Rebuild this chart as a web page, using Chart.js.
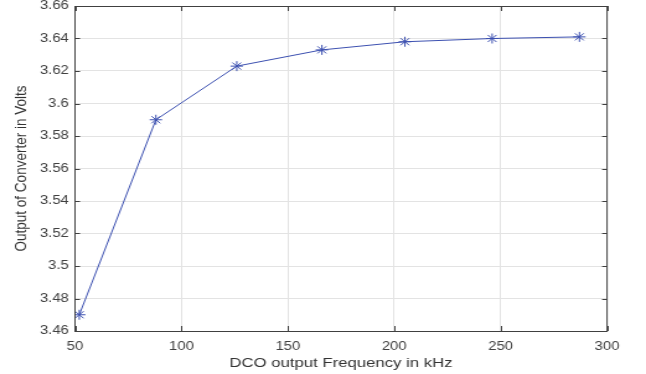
<!DOCTYPE html>
<html>
<head>
<meta charset="utf-8">
<script src="https://cdn.jsdelivr.net/npm/chart.js@4"></script>
<style>
  body { margin: 0; background: #fff; }
  canvas { display: block; }
</style>
</head>
<body>
<!-- drawn at 521 wide, shown at 646: the reference is stretched sideways -->
<canvas id="myChart" width="521" height="374" style="width:646px;height:374px"></canvas>
<script>
const freqKHz = [52, 88, 126, 166, 205, 246, 287];
const volts = [3.470, 3.590, 3.623, 3.633, 3.638, 3.640, 3.641];

const xTickValues = [50, 100, 150, 200, 250, 300];
const xTickLabels = ['50', '100', '150', '200', '250', '300'];
const yTickValues = [3.46, 3.48, 3.50, 3.52, 3.54, 3.56, 3.58, 3.60, 3.62, 3.64, 3.66];
const yTickLabels = ['3.46', '3.48', '3.5', '3.52', '3.54', '3.56', '3.58', '3.6', '3.62', '3.64', '3.66'];

const stretch = 646 / 521;
const axisColor = '#404040';

// box round the plot with short ticks pointing inwards, matlab style
const boxPlugin = {
    id: 'box',
    afterDraw(chart) {
        const ctx = chart.ctx;
        const a = chart.chartArea;
        const xs = chart.scales.x, ys = chart.scales.y;
        ctx.save();
        ctx.strokeStyle = axisColor;
        ctx.lineWidth = 1;
        ctx.beginPath();
        xTickValues.forEach(v => {
            const px = Math.round(xs.getPixelForValue(v)) + 0.5;
            ctx.moveTo(px, a.bottom); ctx.lineTo(px, a.bottom - 5);
            ctx.moveTo(px, a.top); ctx.lineTo(px, a.top + 5);
        });
        const tl = 5 / stretch;
        yTickValues.forEach(v => {
            const py = Math.round(ys.getPixelForValue(v)) + 0.5;
            ctx.moveTo(a.left, py); ctx.lineTo(a.left + tl, py);
            ctx.moveTo(a.right, py); ctx.lineTo(a.right - tl, py);
        });
        ctx.stroke();
        ctx.strokeRect(a.left, Math.round(a.top) + 0.5, a.right - a.left, Math.round(a.bottom) - Math.round(a.top));
        ctx.restore();
    }
};

const ctx = document.getElementById('myChart').getContext('2d');
const myChart = new Chart(ctx, {
    type: 'line',
    data: {
        datasets: [{
            data: freqKHz.map((f, i) => ({x: f, y: volts[i]})),
            borderColor: '#3c50b0',
            borderWidth: 1,
            pointStyle: 'star',
            pointRadius: 5,
            pointBorderColor: '#3c50b0',
            pointBorderWidth: 1,
            pointBackgroundColor: 'rgba(0,0,0,0)',
            tension: 0
        }]
    },
    options: {
        responsive: false,
        devicePixelRatio: 1,
        animation: false,
        layout: { padding: {top: 6, right: 31.4, bottom: 0, left: 0} },
        plugins: {
            legend: { display: false },
            tooltip: { enabled: false }
        },
        scales: {
            x: {
                type: 'linear',
                min: 50,
                max: 300,
                afterBuildTicks: s => { s.ticks = xTickValues.map(v => ({value: v})); },
                afterFit: s => { s.height = 43; s.paddingLeft = 0; s.paddingRight = 0; },
                border: { display: false },
                grid: { color: '#e3e3e3', drawTicks: false },
                ticks: {
                    padding: 10,
                    color: axisColor,
                    font: {family: 'Liberation Sans', size: 12, lineHeight: 1},
                    maxRotation: 0,
                    callback: (v, i) => xTickLabels[i]
                },
                title: {
                    display: true,
                    text: 'DCO output Frequency in kHz',
                    color: '#333',
                    font: {family: 'Liberation Sans', size: 13.5},
                    padding: {bottom: 3, top: 0}
                }
            },
            y: {
                min: 3.46,
                max: 3.66,
                afterBuildTicks: s => { s.ticks = yTickValues.map(v => ({value: v})); },
                afterFit: s => { s.width = 60.5; s.paddingTop = 0; s.paddingBottom = 0; },
                border: { display: false },
                grid: { color: '#e3e3e3', drawTicks: false },
                ticks: {
                    padding: 5,
                    color: axisColor,
                    font: {family: 'Liberation Sans', size: 12, lineHeight: 1},
                    callback: (v, i) => yTickLabels[i]
                },
                title: {
                    display: true,
                    text: 'Output of Converter in Volts',
                    color: '#333',
                    font: {family: 'Liberation Sans', size: 13.5},
                    padding: {top: 9, bottom: 0}
                }
            }
        }
    },
    plugins: [boxPlugin]
});
myChart.canvas.style.width = '646px';
myChart.canvas.style.height = '374px';
</script>
</body>
</html>
